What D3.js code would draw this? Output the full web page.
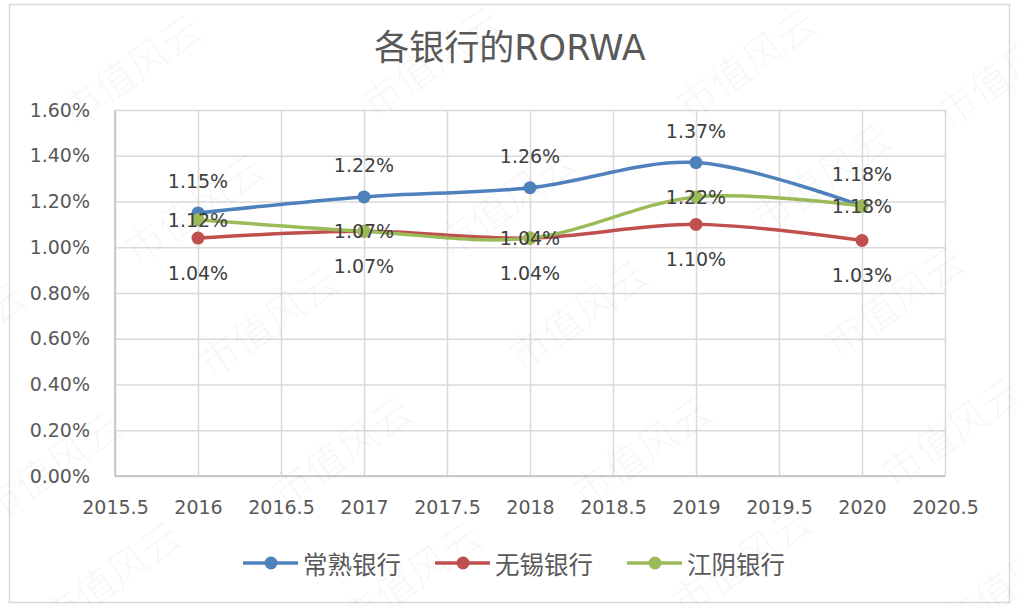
<!DOCTYPE html>
<html>
<head>
<meta charset="utf-8">
<script src="https://cdn.jsdelivr.net/npm/d3@7"></script>
<style>
  html, body { margin: 0; padding: 0; background: #fff; }
  svg { display: block; }
  text { font-family: "DejaVu Sans", "Noto Sans CJK SC", sans-serif; }
</style>
</head>
<body>
<svg id="chart" width="1017" height="607"></svg>
<script>
// ---- data ----
const chartTitle = "各银行的RORWA";
const years = [2016, 2017, 2018, 2019, 2020];
const seriesNames = ["常熟银行", "无锡银行", "江阴银行"];
const changshu = [1.15, 1.22, 1.26, 1.37, 1.18];
const wuxi = [1.04, 1.07, 1.04, 1.10, 1.03];
const jiangyin = [1.12, 1.07, 1.04, 1.22, 1.18];
const seriesColors = ["#4F81BD", "#C0504D", "#9BBB59"];
const labelPlacement = ["above", "below", "center"];
const xTicks = [2015.5, 2016, 2016.5, 2017, 2017.5, 2018, 2018.5, 2019, 2019.5, 2020, 2020.5];
const yTicks = [0, 0.2, 0.4, 0.6, 0.8, 1.0, 1.2, 1.4, 1.6];
const watermarkText = "市值风云";

// ---- layout ----
const svg = d3.select("#chart");
const W = 1017, H = 607;
const plot = { left: 115, right: 945, top: 110, bottom: 476 };

svg.append("rect").attr("x", 0).attr("y", 0).attr("width", W).attr("height", H).attr("fill", "#fff");
svg.append("rect").attr("x", 9.5).attr("y", 4.5).attr("width", 1000).attr("height", 598)
  .attr("fill", "#fff").attr("stroke", "#d9d9d9").attr("stroke-width", 1.5);

const x = d3.scaleLinear().domain([2015.5, 2020.5]).range([plot.left, plot.right]);
const y = d3.scaleLinear().domain([0, 1.6]).range([plot.bottom, plot.top]);

// title
svg.append("text").attr("x", 510).attr("y", 48)
  .attr("text-anchor", "middle").attr("dominant-baseline", "central")
  .attr("font-size", 35).attr("fill", "#595959").text(chartTitle);

// y axis + horizontal grid
const yAxis = svg.append("g").attr("transform", `translate(${plot.left},0)`)
  .call(d3.axisLeft(y).tickValues(yTicks).tickSize(-(plot.right - plot.left)).tickPadding(25)
    .tickFormat(d => d.toFixed(2) + "%"));
yAxis.select(".domain").remove();
yAxis.selectAll("line").attr("stroke", "#d9d9d9").attr("stroke-width", 1.5);
yAxis.selectAll("text").attr("font-size", 19).attr("fill", "#595959")
  .style("font-family", '"DejaVu Sans", sans-serif');

// x axis + vertical grid
const xAxis = svg.append("g").attr("transform", `translate(0,${plot.bottom})`)
  .call(d3.axisBottom(x).tickValues(xTicks).tickSize(-(plot.bottom - plot.top)).tickPadding(25)
    .tickFormat(d => String(d)));
xAxis.select(".domain").remove();
xAxis.selectAll("line").attr("stroke", "#d9d9d9").attr("stroke-width", 1.5);
xAxis.selectAll("text").attr("font-size", 19).attr("fill", "#595959")
  .style("font-family", '"DejaVu Sans", sans-serif');

// axis lines
svg.append("line").attr("x1", plot.left).attr("x2", plot.left).attr("y1", plot.top).attr("y2", plot.bottom)
  .attr("stroke", "#bfbfbf").attr("stroke-width", 1.5);
svg.append("line").attr("x1", plot.left).attr("x2", plot.right).attr("y1", plot.bottom).attr("y2", plot.bottom)
  .attr("stroke", "#bfbfbf").attr("stroke-width", 1.5);

// series
const allSeries = [changshu, wuxi, jiangyin];
const line = d3.line().x(d => x(d[0])).y(d => y(d[1])).curve(d3.curveCardinal.tension(0));

allSeries.forEach((vals, i) => {
  const pts = years.map((yr, j) => [yr, vals[j]]);
  const g = svg.append("g");
  g.append("path").attr("d", line(pts)).attr("fill", "none")
    .attr("stroke", seriesColors[i]).attr("stroke-width", 3.5).attr("stroke-linecap", "round");
  g.selectAll("circle").data(pts).enter().append("circle")
    .attr("cx", d => x(d[0])).attr("cy", d => y(d[1])).attr("r", 6.5)
    .attr("fill", seriesColors[i]);
});

// data labels
allSeries.forEach((vals, i) => {
  const off = labelPlacement[i] === "above" ? -32 : labelPlacement[i] === "below" ? 35 : 0;
  svg.append("g").selectAll("text").data(years.map((yr, j) => [yr, vals[j]])).enter().append("text")
    .attr("x", d => x(d[0])).attr("y", d => y(d[1]) + off)
    .attr("text-anchor", "middle").attr("dominant-baseline", "central")
    .attr("font-size", 19).attr("fill", "#404040")
    .text(d => d[1].toFixed(2) + "%");
});

// legend
const legendY = 563;
const legendStart = 243;
seriesNames.forEach((name, i) => {
  const lx = legendStart + i * 192;
  const g = svg.append("g");
  g.append("line").attr("x1", lx).attr("x2", lx + 55).attr("y1", legendY).attr("y2", legendY)
    .attr("stroke", seriesColors[i]).attr("stroke-width", 3.5);
  g.append("circle").attr("cx", lx + 28).attr("cy", legendY).attr("r", 6.5).attr("fill", seriesColors[i]);
  g.append("text").attr("x", lx + 60).attr("y", legendY)
    .attr("dominant-baseline", "central").attr("font-size", 24.5).attr("fill", "#595959")
    .style("font-family", '"Noto Sans CJK SC", sans-serif')
    .text(name);
});

// watermark
const wmPos = [
  [130, 68], [430, 60], [745, 62], [1005, 70],
  [193, 207], [505, 200], [820, 177],
  [-45, 335], [267, 320], [577, 313], [893, 300],
  [50, 465], [340, 450], [640, 450], [950, 430],
  [110, 575], [410, 575], [740, 560], [1010, 580]
];
svg.append("g").selectAll("text").data(wmPos).enter().append("text")
  .attr("transform", d => `translate(${d[0]},${d[1]}) rotate(-35)`)
  .attr("text-anchor", "middle").attr("dominant-baseline", "central")
  .attr("font-size", 40).attr("font-weight", 300).attr("fill", "#000").attr("fill-opacity", 0.05)
  .style("font-family", '"Noto Sans CJK SC", sans-serif')
  .text(watermarkText);
</script>
</body>
</html>
